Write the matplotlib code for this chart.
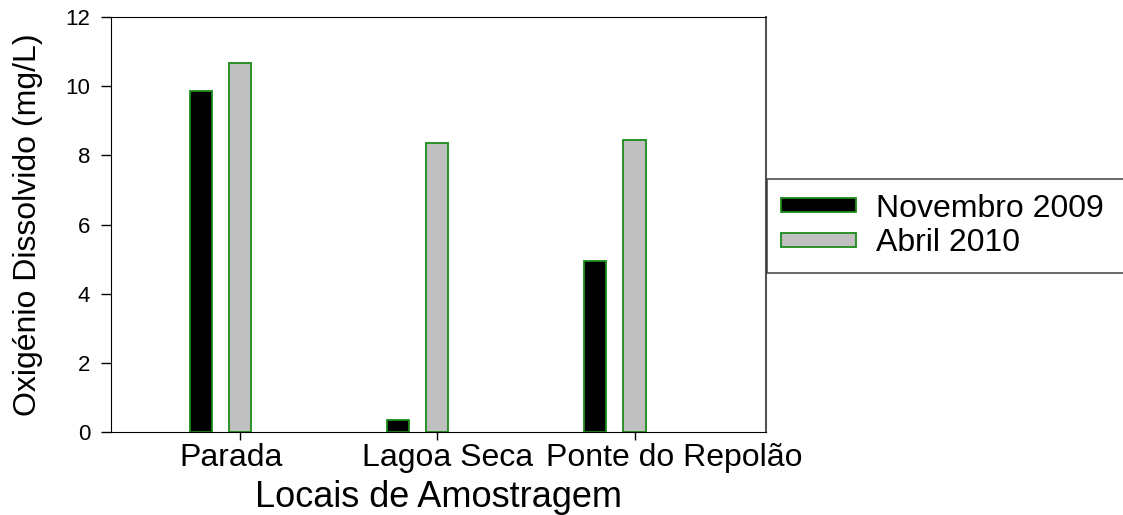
import numpy as np
import matplotlib.pyplot as plt
from matplotlib.transforms import ScaledTranslation

plt.rcParams['font.family'] = ['Liberation Sans', 'DejaVu Sans']

# Oxigénio dissolvido por local e campanha
locais = ["Parada", "Lagoa Seca", "Ponte do Repolão"]
nov_2009 = [9.87, 0.36, 4.95]
abr_2010 = [10.66, 8.36, 8.45]

x = np.arange(1, len(locais) + 1)
largura = 0.112

fig = plt.figure(figsize=(11.23, 5.15), dpi=100)
ax = fig.add_axes([0.0988, 0.161, 0.583, 0.806])

ax.bar(x - 0.199, nov_2009, width=largura, color="black", edgecolor="#1a8c1a",
       linewidth=1.3, label="Novembro 2009")
ax.bar(x, abr_2010, width=largura, color="#c0c0c0", edgecolor="#1a8c1a",
       linewidth=1.3, label="Abril 2010")

ax.set_xlim(0.345, 3.665)
ax.set_ylim(0, 12)
ax.set_yticks(np.arange(0, 13, 2))
ax.set_xticks(x)
ax.set_xticklabels(locais)

ax.tick_params(axis="y", direction="out", length=7, width=1, labelsize=16, pad=8)
ax.tick_params(axis="x", direction="out", length=6, width=1, labelsize=23, pad=2)

# desloca os rótulos das categorias (em polegadas) para não se sobreporem
desvios = [-0.09, 0.10, 0.40]
for rotulo, dx in zip(ax.get_xticklabels(), desvios):
    rotulo.set_transform(rotulo.get_transform() +
                         ScaledTranslation(dx, 0, fig.dpi_scale_trans))

for lado in ["left", "bottom", "top"]:
    ax.spines[lado].set_color("black")
ax.spines["right"].set_color("#555555")
ax.spines["right"].set_linewidth(1.5)

ax.set_xlabel("Locais de Amostragem", fontsize=26, labelpad=5)
ax.set_ylabel("Oxigénio Dissolvido (mg/L)", fontsize=23, labelpad=16)

# legenda larga, a passar da margem direita da figura
leg = fig.legend(loc="upper left", bbox_to_anchor=(0.683, 0.472, 0.33, 0.18),
                 mode="expand", fontsize=23, frameon=True, fancybox=False,
                 handlelength=2.35, handleheight=0.3, handletextpad=0.6,
                 borderpad=0.45, labelspacing=0.15, borderaxespad=0)
leg.get_frame().set_edgecolor("#333333")
leg.get_frame().set_linewidth(1.3)

fig.savefig("out.png", dpi=100)
